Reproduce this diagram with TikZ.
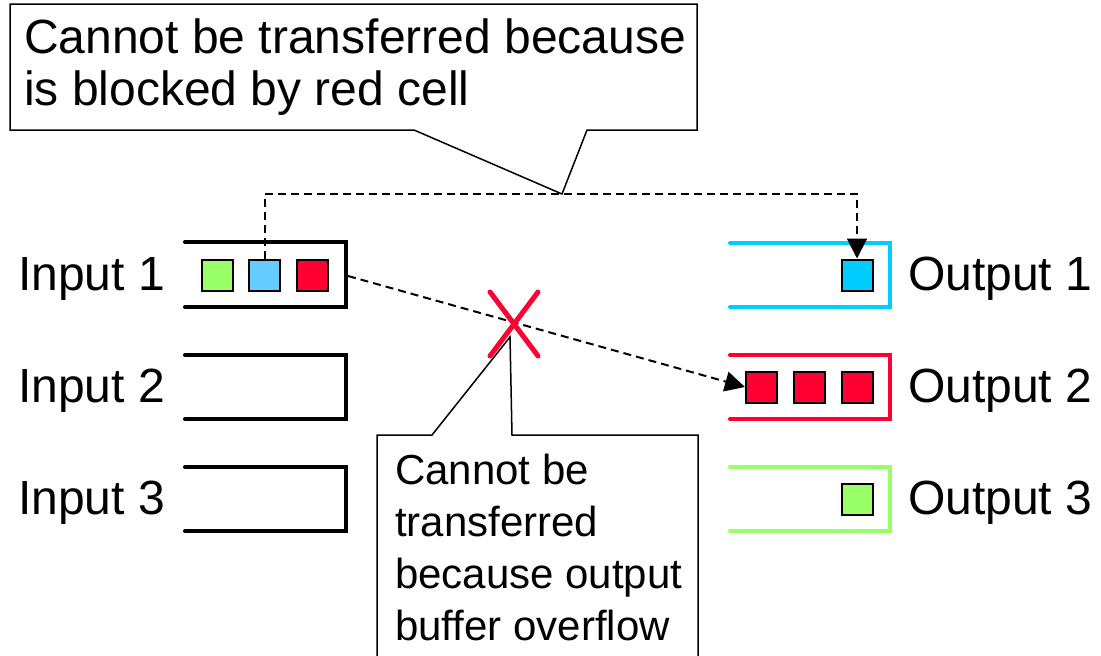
\documentclass[tikz,border=0pt]{standalone}
\usepackage{fontspec}
\setmainfont{Liberation Sans}
\usetikzlibrary{arrows.meta}
\definecolor{cgreen}{RGB}{153,255,102}
\definecolor{clblue}{RGB}{102,204,255}
\definecolor{cred}{RGB}{255,0,51}
\definecolor{ccyan}{RGB}{0,204,255}
\tikzset{
  cellbox/.style={draw=black,line width=2pt,minimum size=31pt,inner sep=0pt},
  buf/.style={line width=4pt,line cap=round,line join=miter},
  lbl/.style={anchor=base west,inner sep=0pt,font=\fontsize{48}{52}\selectfont},
  callout/.style={draw=black,line width=1.5pt,line join=miter},
  dashline/.style={dashed,dash pattern=on 8pt off 5pt,line width=2pt},
  arrowtip/.style={-{Triangle[length=20pt,width=20pt]}}
}
\begin{document}
\begin{tikzpicture}[x=1pt,y=-1pt]
\useasboundingbox (0,0) rectangle (1101,656);
\clip (0,0) rectangle (1101,656);
% input buffers
\draw[buf] (185,242) -- (346,242) -- (346,307) -- (185,307);
\draw[buf] (185,355) -- (346,355) -- (346,419) -- (185,419);
\draw[buf] (185,467) -- (346,467) -- (346,531) -- (185,531);
% output buffers
\draw[buf,ccyan] (730,243) -- (890,243) -- (890,307) -- (730,307);
\draw[buf,cred] (730,355) -- (890,355) -- (890,419) -- (730,419);
\draw[buf,cgreen] (730,467) -- (890,467) -- (890,531) -- (730,531);
% labels
\node[lbl] (in1) at (18,290) {Input 1};
\node[lbl] (in2) at (18,402) {Input 2};
\node[lbl] (in3) at (18,514) {Input 3};
\node[lbl] (out1) at (908,290) {Output 1};
\node[lbl] (out2) at (908,402) {Output 2};
\node[lbl] (out3) at (908,514) {Output 3};
% cells
\node[cellbox,fill=cgreen] (ig) at (217.5,275) {};
\node[cellbox,fill=clblue] (ib) at (264.5,275) {};
\node[cellbox,fill=cred] (ir) at (312,275) {};
\node[cellbox,fill=ccyan] (o1) at (857,275) {};
\node[cellbox,fill=cred] (o2a) at (761.5,387) {};
\node[cellbox,fill=cred] (o2b) at (809,387) {};
\node[cellbox,fill=cred] (o2c) at (857,387) {};
\node[cellbox,fill=cgreen] (o3) at (857,499) {};
% callout coordinates
\coordinate (tipA) at (562,194);
\coordinate (in1e) at (348,276);
\coordinate (xc) at (514,324);
\coordinate (tipB) at (510,337);
% dashed connectors
\draw[dashline,arrowtip] (ib.north) -- (ib.north |- tipA) -- (o1.north |- tipA) -- (o1.north);
\draw[dashline,arrowtip] (in1e) -- (o2a.west);
% red cross
\draw[cred,line width=5pt,line cap=round] ([shift={(-24,-32)}]xc) -- ([shift={(24,32)}]xc);
\draw[cred,line width=5pt,line cap=round] ([shift={(24,-32)}]xc) -- ([shift={(-24,32)}]xc);
% top callout
\draw[callout] (10,4) -- (697,4) -- (697,130) -- (587,130) -- (tipA) -- (414,130) -- (10,130) -- cycle;
\node[anchor=base west,inner sep=0pt,align=left,font=\fontsize{48}{52}\selectfont] (t1) at (24,105) {Cannot be transferred because\\is blocked by red cell};
% bottom callout
\draw[callout] (377,435) -- (432,435) -- (tipB) -- (512,435) -- (698,435) -- (698,700) -- (377,700) -- cycle;
\node[anchor=base west,inner sep=0pt,align=left,font=\fontsize{42}{51.7}\selectfont] (t2) at (395,640) {Cannot be\\transferred\\because output\\buffer overflow};
\end{tikzpicture}
\end{document}
